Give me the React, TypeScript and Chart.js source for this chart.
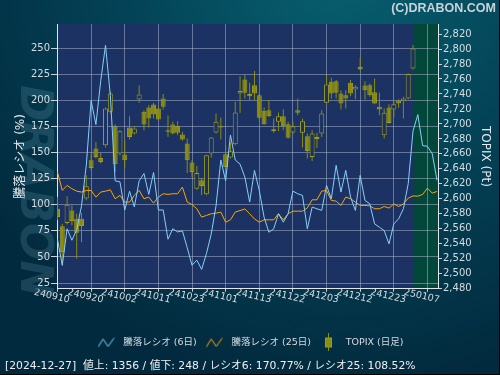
import React, { useEffect, useRef } from "react";
import { Chart, registerables } from "chart.js";

Chart.register(...registerables);

const FONT = "'DejaVu Sans', 'Noto Sans CJK JP', sans-serif";

// ---- data ----
const dates = [
  "240910", "240911", "240912", "240913", "240917", "240918", "240919", "240920", "240924", "240925",
  "240926", "240927", "240930", "241001", "241002", "241003", "241004", "241007", "241008", "241009",
  "241010", "241011", "241015", "241016", "241017", "241018", "241021", "241022", "241023", "241024",
  "241025", "241028", "241029", "241030", "241031", "241101", "241105", "241106", "241107", "241108",
  "241111", "241112", "241113", "241114", "241115", "241118", "241119", "241120", "241121", "241122",
  "241125", "241126", "241127", "241128", "241129", "241202", "241203", "241204", "241205", "241206",
  "241209", "241210", "241211", "241212", "241213", "241216", "241217", "241218", "241219", "241220",
  "241223", "241224", "241225", "241226", "241227", "241230", "250106", "250107", "250108", "250109",
];
const xTickIndexes = [0, 7, 14, 21, 28, 35, 42, 49, 56, 63, 70, 77];

const ratio6 = [
  67, 42, 77, 66, 76, 99, 138, 200, 177, 219,
  253, 205, 123, 122, 95, 113, 98, 123, 130, 110,
  131, 95, 95, 67, 77, 74, 75, 59, 42, 47,
  38, 53, 72, 99, 143, 123, 167, 143, 139, 126.6,
  102.6, 133, 113.8, 88.2, 73.7, 76.9, 91.4, 83.3, 91.4, 113.1,
  110.6, 109, 76.9, 97.8, 96.2, 94.6, 118.6, 105.8, 137.8, 112.2,
  133, 107.4, 94.6, 128.2, 104.2, 101, 81.7, 78.5, 75.3, 62.5,
  81.7, 86.5, 96.2, 120.2, 170.77, 186.5, 156.7, 156.1, 149, 123.4,
];
const ratio25 = [
  131.4, 113.8, 118.6, 115.4, 113.1, 112.2, 113.8, 113.8, 107.4, 112.2,
  113.1, 114.4, 105.8, 109.0, 102.6, 102.6, 109.0, 113.8, 105.8, 107.4,
  101.6, 107.4, 110.6, 110.0, 110.6, 110.6, 117.0, 102.6, 100.3, 96.2,
  88.2, 89.8, 91.4, 92.0, 93.0, 83.3, 85.6, 93.0, 94.5, 96.0,
  91.4, 86.5, 83.3, 85.6, 85.6, 85.6, 91.4, 85.6, 91.4, 93.9,
  93.9, 93.9, 97.0, 104.8, 104.8, 113.1, 113.8, 104.2, 103.5, 99.4,
  107.4, 105.8, 102.6, 99.4, 99.4, 99.0, 96.2, 96.2, 98.4, 96.8,
  100.9, 98.4, 100.9, 106.4, 108.52, 108.3, 109.9, 116.0, 111.2, 112.8,
];

const topixOpen = [
  2586.9, 2563.3, 2567.7, 2584.6, 2573.5, 2573.5, 2600.3, 2651.5, 2667.1, 2654.6,
  2671.6, 2716.1, 2697.0, 2660.4, 2659.1, 2695.2, 2687.2, 2732.6, 2716.1, 2721.9,
  2725.9, 2720.6, 2734.0, 2691.6, 2699.2, 2697.4, 2685.8, 2673.8, 2648.4, 2613.6,
  2624.8, 2606.0, 2660.4, 2688.5, 2697.0, 2659.5, 2655.1, 2672.9, 2740.6, 2759.4,
  2739.8, 2751.8, 2738.4, 2717.5, 2718.4, 2693.0, 2702.8, 2710.3, 2699.6, 2688.5,
  2718.4, 2688.1, 2683.6, 2656.0, 2682.7, 2687.2, 2728.2, 2756.2, 2757.1, 2740.6,
  2738.4, 2754.9, 2746.0, 2775.9, 2751.3, 2751.8, 2742.4, 2722.8, 2684.9, 2721.9,
  2719.3, 2730.8, 2730.4, 2734.0, 2774.1,
];
const topixHigh = [
  2602.5, 2566.8, 2603.4, 2591.3, 2580.2, 2581.5, 2631.4, 2659.5, 2676.0, 2661.3,
  2721.9, 2742.9, 2699.6, 2691.6, 2678.3, 2710.3, 2697.0, 2751.8, 2718.4, 2725.0,
  2728.2, 2723.7, 2739.8, 2711.2, 2702.8, 2703.6, 2689.4, 2680.5, 2651.5, 2643.9,
  2627.0, 2659.0, 2682.7, 2713.9, 2708.6, 2671.6, 2676.0, 2729.5, 2763.8, 2765.2,
  2754.9, 2770.5, 2741.5, 2721.9, 2731.7, 2707.2, 2715.2, 2719.7, 2702.8, 2702.8,
  2734.0, 2707.2, 2687.2, 2691.6, 2688.1, 2718.4, 2765.2, 2761.6, 2758.5, 2745.1,
  2745.1, 2758.5, 2751.8, 2788.3, 2757.1, 2754.0, 2760.7, 2741.5, 2720.6, 2726.4,
  2731.7, 2733.1, 2736.2, 2767.4, 2805.3,
];
const topixLow = [
  2571.3, 2511.1, 2565.9, 2564.6, 2520.0, 2542.3, 2598.0, 2638.1, 2653.7, 2647.1,
  2668.4, 2713.9, 2635.9, 2658.2, 2640.4, 2679.1, 2685.8, 2728.2, 2691.6, 2695.2,
  2707.2, 2705.0, 2719.3, 2682.7, 2686.3, 2684.9, 2677.4, 2634.6, 2629.2, 2612.3,
  2604.7, 2604.7, 2655.1, 2687.2, 2679.1, 2635.9, 2653.7, 2671.6, 2714.8, 2734.0,
  2731.7, 2731.7, 2705.9, 2699.0, 2709.4, 2688.1, 2690.7, 2691.6, 2680.5, 2686.3,
  2711.7, 2668.4, 2653.7, 2650.6, 2668.0, 2682.7, 2727.5, 2734.0, 2734.0, 2719.3,
  2720.6, 2737.1, 2733.1, 2771.8, 2732.6, 2736.2, 2726.4, 2711.7, 2680.5, 2700.5,
  2709.4, 2721.5, 2707.2, 2733.1, 2772.7,
];
const topixClose = [
  2575.7, 2529.0, 2592.2, 2570.4, 2554.8, 2563.7, 2616.7, 2641.3, 2656.0, 2649.3,
  2720.6, 2740.6, 2646.2, 2690.3, 2651.5, 2682.7, 2693.8, 2739.3, 2699.2, 2707.2,
  2712.6, 2705.9, 2722.8, 2689.4, 2687.2, 2688.1, 2679.1, 2651.5, 2635.9, 2634.6,
  2617.2, 2658.2, 2681.8, 2702.8, 2695.2, 2642.6, 2663.5, 2715.2, 2743.8, 2741.5,
  2737.1, 2740.6, 2708.1, 2699.6, 2710.3, 2690.7, 2710.3, 2697.0, 2681.4, 2697.0,
  2714.8, 2703.6, 2664.0, 2687.2, 2680.0, 2713.9, 2752.7, 2740.6, 2741.5, 2727.3,
  2734.0, 2740.6, 2749.6, 2772.7, 2745.1, 2738.4, 2727.3, 2719.3, 2714.8, 2701.4,
  2726.4, 2727.3, 2734.0, 2766.5, 2800.8,
];

const leftTicks = [25, 50, 75, 100, 125, 150, 175, 200, 225, 250];
const rightTicks = [
  2480, 2500, 2520, 2540, 2560, 2580, 2600, 2620, 2640, 2660, 2680, 2700,
  2720, 2740, 2760, 2780, 2800, 2820,
];
const latestIndex = 74; // 2024-12-27, last daily candle

const legendTexts = ["騰落レシオ (6日)", "騰落レシオ (25日)", "TOPIX (日足)"];
const headerText = "(C)DRABON.COM";
const statusText =
  "[2024-12-27]  値上: 1356 / 値下: 248 / レシオ6: 170.77% / レシオ25: 108.52%";
const leftTitle = "騰落レシオ (%)";
const rightTitle = "TOPIX (Pt)";
const watermarkText = "DRABON";

// ---- styles ----
const PLOT_BG = "#1b3262";
const GREEN_BG = "#03473b";
const BLUE = "#87cefa";
const ORANGE = "#ffa500";
const OLIVE = "#8c8c10";
const OLIVE_EDGE = "#9c9c1e";
const GRID = "rgba(175,185,210,0.5)";
const TICK = "#c8d0d8";
const TEXT = "#d6dce2";

function makeLineIcon(color: string) {
  const c = document.createElement("canvas");
  c.width = 21;
  c.height = 12;
  const g = c.getContext("2d")!;
  g.strokeStyle = color;
  g.lineWidth = 1;
  g.beginPath();
  g.moveTo(0.5, 10.5);
  g.lineTo(5.5, 2.5);
  g.lineTo(10.5, 10);
  g.lineTo(16.5, 1.5);
  g.stroke();
  return c;
}
function makeCandleIcon() {
  const c = document.createElement("canvas");
  c.width = 21;
  c.height = 18;
  const g = c.getContext("2d")!;
  g.fillStyle = OLIVE;
  g.fillRect(8, 0, 1, 18);
  g.fillRect(5.5, 4, 6, 10);
  g.strokeStyle = OLIVE_EDGE;
  g.lineWidth = 1;
  g.strokeRect(5.5, 4.5, 6, 9);
  return c;
}

const backgroundPlugin = {
  id: "bgPlugin",
  beforeDraw(chart: any) {
    const { ctx, width, height, chartArea, scales } = chart;
    ctx.save();
    const g = ctx.createRadialGradient(340, -40, 10, 340, -40, 430);
    g.addColorStop(0, "#07606f");
    g.addColorStop(0.45, "#044559");
    g.addColorStop(1, "#022a3e");
    ctx.fillStyle = g;
    ctx.fillRect(0, 0, width, height);
    // watermark
    ctx.translate(32, 191);
    ctx.rotate(Math.PI / 2);
    ctx.font = "italic bold 44px 'DejaVu Sans'";
    ctx.fillStyle = "rgba(120,175,195,0.2)";
    ctx.textAlign = "center";
    ctx.textBaseline = "middle";
    ctx.fillText(watermarkText, 0, 0);
    ctx.restore();

    ctx.save();
    ctx.fillStyle = PLOT_BG;
    ctx.fillRect(chartArea.left, chartArea.top, chartArea.right - chartArea.left, chartArea.bottom - chartArea.top);
    const gx = scales.x.getPixelForValue(latestIndex);
    ctx.fillStyle = GREEN_BG;
    ctx.fillRect(gx, chartArea.top, chartArea.right - gx, chartArea.bottom - chartArea.top);
    ctx.restore();
  },
  afterDraw(chart: any) {
    const { ctx, width, height } = chart;
    ctx.save();
    ctx.fillStyle = "#000000";
    ctx.fillRect(width - 1, 0, 1, height);
    ctx.fillRect(0, height - 1, width, 1);
    ctx.restore();
  },
};

export default function App() {
  const ref = useRef<HTMLCanvasElement>(null);

  useEffect(() => {
    const canvas = ref.current;
    if (!canvas) return;

    const icon6 = makeLineIcon(BLUE);
    const icon25 = makeLineIcon(ORANGE);
    const iconCandle = makeCandleIcon();

    const candleIdx = topixOpen.map((_, i) => i);
    const bodyFill = candleIdx.map((i) => (topixClose[i] >= topixOpen[i] ? PLOT_BG : OLIVE));

    const chart = new Chart(canvas, {
      type: "bar",
      data: {
        datasets: [
          {
            type: "line",
            label: legendTexts[0],
            data: ratio6.map((v, i) => ({ x: i, y: v })),
            xAxisID: "x",
            yAxisID: "y",
            borderColor: BLUE,
            borderWidth: 1,
            pointRadius: 0,
            tension: 0,
            fill: false,
            order: 0,
          } as any,
          {
            type: "line",
            label: legendTexts[1],
            data: ratio25.map((v, i) => ({ x: i, y: v })),
            xAxisID: "x",
            yAxisID: "y",
            borderColor: ORANGE,
            borderWidth: 1,
            pointRadius: 0,
            tension: 0,
            fill: false,
            order: 0,
          } as any,
          {
            type: "bar",
            label: legendTexts[2],
            data: candleIdx.map((i) => ({ x: i, y: [topixOpen[i], topixClose[i]] })),
            xAxisID: "x",
            yAxisID: "y2",
            backgroundColor: bodyFill,
            borderColor: OLIVE_EDGE,
            borderWidth: 1,
            borderSkipped: false,
            barThickness: 5,
            grouped: false,
            inflateAmount: 0,
            order: 1,
          } as any,
          {
            type: "bar",
            label: "wick",
            data: candleIdx.map((i) => ({ x: i, y: [topixLow[i], topixHigh[i]] })),
            xAxisID: "x",
            yAxisID: "y2",
            backgroundColor: OLIVE,
            borderWidth: 0,
            barThickness: 1,
            grouped: false,
            inflateAmount: 0,
            order: 2,
          } as any,
        ],
      },
      options: {
        responsive: false,
        devicePixelRatio: 1,
        animation: false,
        events: [],
        layout: { padding: { left: 5, right: 4, top: 0, bottom: 0 } },
        plugins: {
          tooltip: { enabled: false },
          title: {
            display: true,
            text: headerText,
            position: "top",
            align: "end",
            color: "#c8d2d9",
            font: { family: "'Liberation Sans', Arial, sans-serif", size: 12.5, weight: "bold" },
            padding: { top: 1, bottom: 8 },
          },
          subtitle: {
            display: true,
            text: statusText,
            position: "bottom",
            align: "start",
            color: "#eef0f2",
            font: { family: FONT, size: 10.8 },
            padding: { top: 2.4, bottom: 2.4 },
          },
          legend: {
            display: true,
            position: "bottom",
            align: "center",
            labels: {
              usePointStyle: true,
              pointStyleWidth: 21,
              padding: 9,
              color: TEXT,
              font: { family: FONT, size: 9.5 },
              generateLabels: () => [
                { text: legendTexts[0], pointStyle: icon6, fillStyle: "transparent", strokeStyle: "transparent", lineWidth: 0, hidden: false, datasetIndex: 0, fontColor: TEXT },
                { text: legendTexts[1], pointStyle: icon25, fillStyle: "transparent", strokeStyle: "transparent", lineWidth: 0, hidden: false, datasetIndex: 1, fontColor: TEXT },
                { text: legendTexts[2], pointStyle: iconCandle, fillStyle: "transparent", strokeStyle: "transparent", lineWidth: 0, hidden: false, datasetIndex: 2, fontColor: TEXT },
              ] as any,
            },
          },
        },
        scales: {
          x: {
            type: "linear",
            position: "bottom",
            min: -0.1,
            max: 79.2,
            offset: false,
            afterBuildTicks: (s: any) => {
              s.ticks = xTickIndexes.map((v) => ({ value: v }));
            },
            afterFit: (s: any) => {
              s.height = 40;
            },
            ticks: {
              autoSkip: false,
              minRotation: -13,
              maxRotation: -13,
              labelOffset: 12,
              padding: 3,
              color: TEXT,
              font: { family: FONT, size: 9.5 },
              callback: (v: any) => dates[Math.round(Number(v))],
            },
            grid: { color: GRID, lineWidth: 1, offset: false, drawTicks: true, tickLength: 3, tickColor: TICK },
            border: { display: true, color: "#e2e6ea", width: 1 },
          } as any,
          y: {
            type: "linear",
            position: "left",
            min: 19.5,
            max: 273.4,
            afterBuildTicks: (s: any) => {
              s.ticks = leftTicks.map((v) => ({ value: v }));
            },
            afterFit: (s: any) => {
              s.width = 52;
            },
            ticks: { color: TEXT, font: { family: FONT, size: 10 }, padding: 1 },
            grid: { color: GRID, lineWidth: 1, drawTicks: true, tickLength: 6, tickColor: TICK },
            border: { display: true, color: "#e2e6ea", width: 1 },
            title: {
              display: true,
              text: leftTitle,
              color: "#e6eaee",
              font: { family: FONT, size: 12 },
              padding: { top: 9, bottom: 0 },
            },
          } as any,
          y2: {
            type: "linear",
            position: "right",
            min: 2480,
            max: 2833.4,
            afterBuildTicks: (s: any) => {
              s.ticks = rightTicks.map((v) => ({ value: v }));
            },
            afterFit: (s: any) => {
              s.width = 58;
            },
            ticks: {
              color: TEXT,
              font: { family: FONT, size: 10 },
              padding: 1,
              callback: (v: any) => Number(v).toLocaleString("en-US"),
            },
            grid: { drawOnChartArea: false, drawTicks: true, tickLength: 4, tickColor: TICK },
            border: { display: true, color: "#e2e6ea", width: 1 },
            title: {
              display: true,
              text: rightTitle,
              color: "#e6eaee",
              font: { family: FONT, size: 12 },
              padding: { top: 4, bottom: 0 },
            },
          } as any,
        },
      } as any,
      plugins: [backgroundPlugin],
    });

    return () => chart.destroy();
  }, []);

  return (
    <div style={{ position: "fixed", left: 0, top: 0, width: 500, height: 375 }}>
      <canvas ref={ref} width={500} height={375} style={{ display: "block", width: 500, height: 375 }} />
    </div>
  );
}
